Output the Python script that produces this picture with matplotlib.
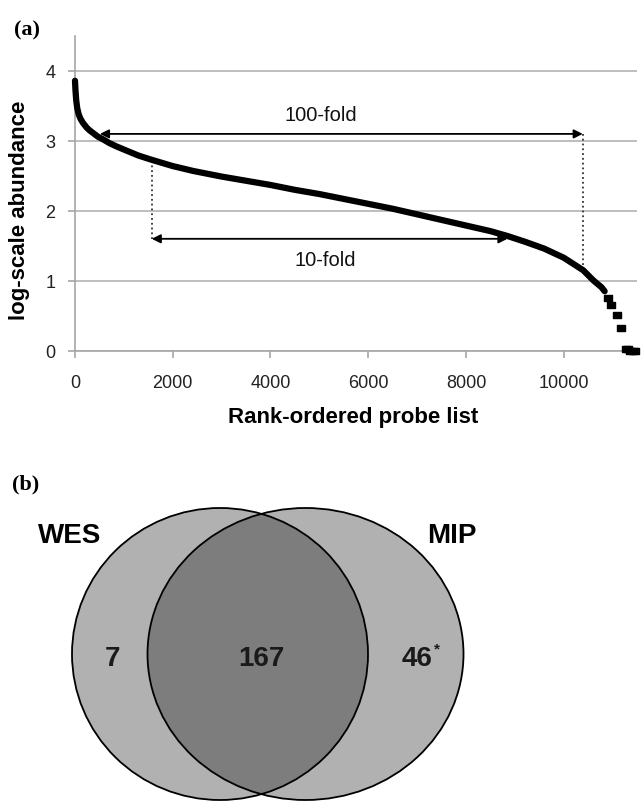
import matplotlib
matplotlib.use("Agg")
import matplotlib.pyplot as plt
from matplotlib.patches import Ellipse
from matplotlib.path import Path

plt.rcParams['font.family'] = ['Liberation Sans', 'DejaVu Sans']

# ---------------- data (a) ----------------
rank_dense = [0, 10, 25, 45, 75, 110, 160, 239, 300, 375, 470, 580, 700, 852, 1057, 1300,
              1568, 2000, 2420, 3000, 3500, 4000, 4500, 5000, 5500, 6000, 6500, 7000,
              7500, 8000, 8500, 8850, 9200, 9600, 10000, 10400, 10500, 10600, 10700,
              10770, 10838]
abund_dense = [3.86, 3.72, 3.58, 3.47, 3.38, 3.32, 3.26, 3.19, 3.15, 3.11, 3.06, 3.02,
               2.97, 2.92, 2.86, 2.79, 2.73, 2.64, 2.57, 2.49, 2.43, 2.37, 2.30, 2.24,
               2.17, 2.10, 2.03, 1.95, 1.87, 1.79, 1.71, 1.64, 1.56, 1.46, 1.33, 1.15,
               1.08, 1.01, 0.95, 0.91, 0.85]
rank_tail = [10906, 10975, 11090, 11180, 11268, 11320, 11364, 11420, 11460]
abund_tail = [0.75, 0.65, 0.51, 0.33, 0.03, 0.02, 0.00, 0.00, 0.00]

x_ticks = [0, 2000, 4000, 6000, 8000, 10000]
y_ticks = [0, 1, 2, 3, 4]

fold100 = dict(label="100-fold", x0=510, x1=10390, y=3.10, y_curve=1.17)
fold10 = dict(label="10-fold", x0=1570, x1=8850, y=1.60, y_curve=2.72)

# ---------------- data (b) ----------------
venn_sets = ["WES", "MIP"]
venn_counts = ["7", "167", "46"]

W, H = 642, 803
fig = plt.figure(figsize=(W / 100, H / 100), dpi=100)


def fx(px):
    return px / W


def fy(py):
    return 1 - py / H


# ---------------- Venn (b) ----------------
axv = fig.add_axes([0, 0, 1, 1])
axv.set_xlim(0, W)
axv.set_ylim(H, 0)
axv.axis("off")

light = "#b1b1b1"
dark = "#7d7d7d"
left = dict(xy=(220, 655), width=296, height=292)
right = dict(xy=(305.5, 655), width=316, height=292)

eL = Ellipse(**left, facecolor=light, edgecolor="none")
eR = Ellipse(**right, facecolor=light, edgecolor="none")
axv.add_patch(eL)
axv.add_patch(eR)
eI = Ellipse(**left, facecolor=dark, edgecolor="none")
axv.add_patch(eI)
eI.set_clip_path(eR)
for p in (left, right):
    axv.add_patch(Ellipse(**p, facecolor="none", edgecolor="black", lw=1.3))

axv.text(70, 536, venn_sets[0], ha="center", va="center", fontsize=20, fontweight="bold")
axv.text(452, 536, venn_sets[1], ha="center", va="center", fontsize=20, fontweight="bold")
axv.text(112, 659, venn_counts[0], ha="center", va="center", fontsize=20, fontweight="bold", color="#1a1a1a")
axv.text(261, 659, venn_counts[1], ha="center", va="center", fontsize=20, fontweight="bold", color="#1a1a1a")
axv.text(432, 659, venn_counts[2], ha="right", va="center", fontsize=20, fontweight="bold", color="#1a1a1a")
axv.text(434, 649, "*", ha="left", va="center", fontsize=11, fontweight="bold", color="#1a1a1a")

# ---------------- Curve (a) ----------------
ax = fig.add_axes([fx(75), fy(351.7), (637 - 75) / W, (351.7 - 37) / H])
ax.set_xlim(0, 11500)
ax.set_ylim(0, 4.5)

rect = Path([(-1, -0.62), (1, -0.62), (1, 0.62), (-1, 0.62), (-1, -0.62)],
            [Path.MOVETO, Path.LINETO, Path.LINETO, Path.LINETO, Path.CLOSEPOLY])

ax.plot(rank_dense, abund_dense, color="black", lw=4.5, solid_capstyle="round",
        solid_joinstyle="round", zorder=3, clip_on=False)
ax.plot(rank_tail, abund_tail, ls="none", marker=rect, ms=6, color="black",
        zorder=3, clip_on=False)

for s in ("top", "right"):
    ax.spines[s].set_visible(False)
for s in ("left", "bottom"):
    ax.spines[s].set_color("#a6a6a6")
    ax.spines[s].set_linewidth(1.2)
ax.set_xticks(x_ticks)
ax.set_yticks(y_ticks)
ax.yaxis.grid(True, color="#b3b3b3", lw=1.2)
ax.set_axisbelow(True)
ax.tick_params(axis="both", color="#a6a6a6", length=5, width=1.2, direction="out",
               labelsize=13, labelcolor="#222222")
ax.tick_params(axis="x", pad=12)
ax.tick_params(axis="y", pad=9)

arrow_kw = dict(arrowstyle="<|-|>", color="black", lw=1.3, mutation_scale=13,
                shrinkA=0, shrinkB=0)
for f, lx, ly, vx in ((fold100, 5030, 3.38, fold100["x1"]), (fold10, 5130, 1.30, fold10["x0"])):
    ax.annotate("", xy=(f["x0"], f["y"]), xytext=(f["x1"], f["y"]), arrowprops=arrow_kw, zorder=4)
    ax.plot([vx, vx], [f["y"], f["y_curve"]], ls=":", color="#333333", lw=1.3, zorder=2)
    ax.text(lx, ly, f["label"], ha="center", va="center", fontsize=14.5, color="#111111")

fig.text(fx(19.5), fy(210), "log-scale abundance", rotation=90, ha="center", va="center",
         fontsize=16, fontweight="bold")
fig.text(fx(353), fy(418), "Rank-ordered probe list", ha="center", va="center",
         fontsize=16, fontweight="bold")
fig.text(fx(27), fy(30), "(a)", ha="center", va="center", fontsize=16, fontweight="bold",
         family=["Liberation Serif", "DejaVu Serif"])
fig.text(fx(26), fy(484), "(b)", ha="center", va="center", fontsize=16, fontweight="bold",
         family=["Liberation Serif", "DejaVu Serif"])

fig.savefig("out.png", dpi=100)
